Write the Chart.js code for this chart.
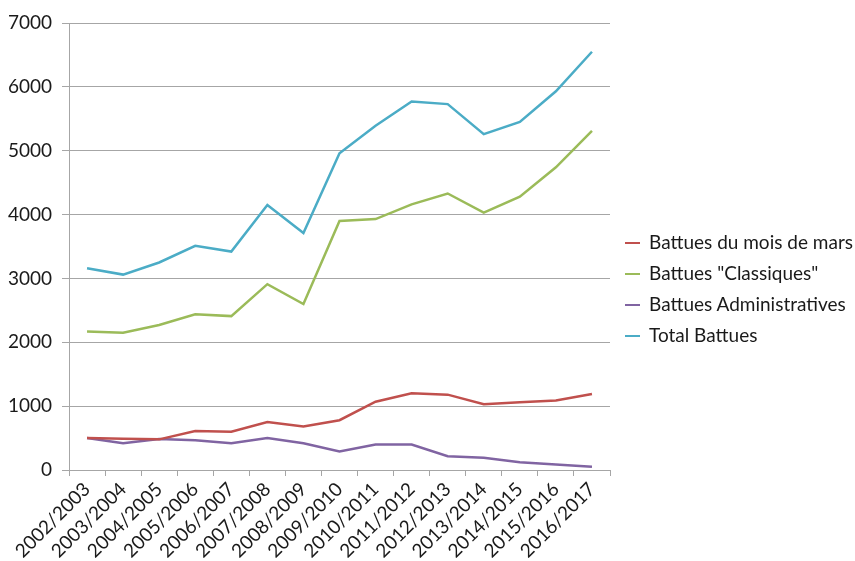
<!DOCTYPE html>
<html>
<head>
<meta charset="utf-8">
<script src="https://cdn.jsdelivr.net/npm/chart.js@4"></script>
<style>
  html, body { margin: 0; padding: 0; background: #fff; overflow: hidden; }
  #wrap { position: relative; width: 855px; height: 561px; overflow: hidden; }
  #legende { position: absolute; left: 625px; top: 226px; font-family: Lato, sans-serif; font-size: 19px; color: #1a1a1a; white-space: nowrap; }
  #legende div { height: 31px; line-height: 31px; }
  #legende span.trait { display: inline-block; width: 15px; height: 2.5px; vertical-align: middle; margin-right: 9px; position: relative; top: -1px; }
</style>
</head>
<body>
<div id="wrap">
  <canvas id="graphique" width="855" height="561"></canvas>
  <div id="legende"></div>
</div>
<script>
  // === DONNÉES ===
  const saisons = ['2002/2003', '2003/2004', '2004/2005', '2005/2006', '2006/2007', '2007/2008', '2008/2009',
    '2009/2010', '2010/2011', '2011/2012', '2012/2013', '2013/2014', '2014/2015', '2015/2016', '2016/2017'];
  const battuesMars = [500, 490, 480, 610, 600, 750, 680, 780, 1070, 1200, 1180, 1030, 1060, 1090, 1190];
  const battuesClassiques = [2170, 2150, 2270, 2440, 2410, 2910, 2600, 3900, 3930, 4160, 4330, 4030, 4280, 4740, 5310];
  const battuesAdmin = [500, 420, 485, 465, 420, 500, 420, 290, 400, 400, 215, 190, 120, 85, 50];
  const totalBattues = [3160, 3060, 3250, 3510, 3420, 4150, 3710, 4960, 5390, 5770, 5730, 5260, 5450, 5930, 6550];
  const ticksY = [0, 1000, 2000, 3000, 4000, 5000, 6000, 7000];

  const series = [
    { label: 'Battues du mois de mars', data: battuesMars, couleur: '#C0504D' },
    { label: 'Battues "Classiques"', data: battuesClassiques, couleur: '#9BBB59' },
    { label: 'Battues Administratives', data: battuesAdmin, couleur: '#8064A2' },
    { label: 'Total Battues', data: totalBattues, couleur: '#4BACC6' }
  ];

  const police = { family: 'Lato, sans-serif', size: 19 };
  const gris = '#a6a6a6';

  const ctx = document.getElementById('graphique').getContext('2d');
  new Chart(ctx, {
    type: 'line',
    data: {
      labels: saisons,
      datasets: series.map(s => ({
        label: s.label,
        data: s.data,
        borderColor: s.couleur,
        backgroundColor: s.couleur,
        borderWidth: 2.5,
        pointRadius: 0,
        tension: 0,
        fill: false
      }))
    },
    options: {
      responsive: false,
      animation: false,
      layout: { padding: { top: 23, right: 245, left: 0, bottom: 0 } },
      plugins: {
        legend: { display: false },
        tooltip: { enabled: false }
      },
      scales: {
        x: {
          offset: true,
          grid: { display: true, drawOnChartArea: false, drawTicks: true, tickLength: 6, color: gris, offset: true },
          border: { color: gris, width: 1 },
          ticks: { color: '#1a1a1a', font: police, minRotation: 45, maxRotation: 45, padding: 2, autoSkip: false },
          afterFit: s => { s.height = 91; }
        },
        y: {
          min: 0,
          max: 7000,
          afterBuildTicks: s => { s.ticks = ticksY.map(v => ({ value: v })); },
          grid: { color: gris, tickLength: 7, lineWidth: 1 },
          border: { color: gris, width: 1 },
          ticks: { color: '#1a1a1a', font: police, padding: 10, callback: v => String(v) },
          afterFit: s => { s.width = 69; }
        }
      }
    }
  });

  // === LÉGENDE ===
  const legende = document.getElementById('legende');
  series.forEach(s => {
    const ligne = document.createElement('div');
    ligne.innerHTML = `<span class="trait" style="background:${s.couleur}"></span>${s.label.replace(/"/g, '&quot;')}`;
    legende.appendChild(ligne);
  });
</script>
</body>
</html>
